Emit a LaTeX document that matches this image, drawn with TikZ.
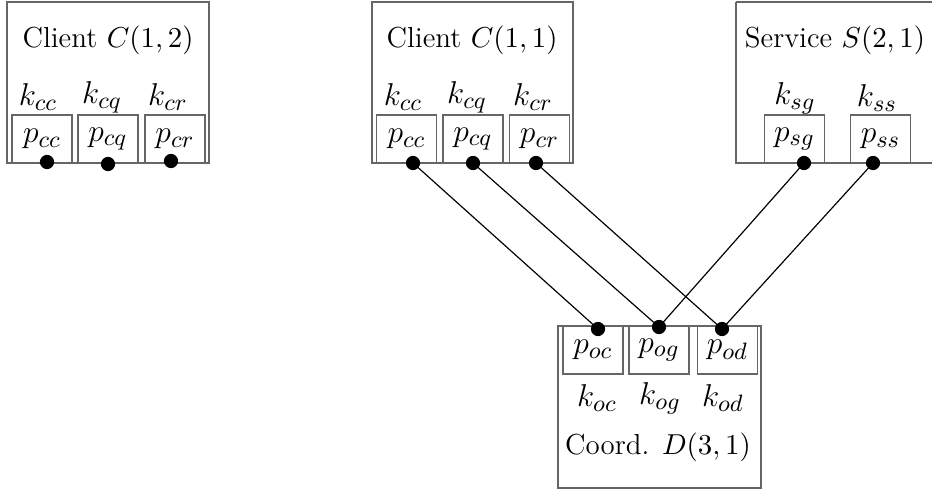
\documentclass[tikz,border=0pt]{standalone}
\begin{document}
\begin{tikzpicture}[x=0.38pt,y=-0.38pt,
  font=\fontsize{11}{13}\selectfont,
  outer/.style={draw=black!60,line width=0.5pt},
  port/.style={draw=black!60,line width=0.5pt,minimum width=22.8pt,minimum height=18.24pt,inner sep=0pt,font=\fontsize{12.5}{15}\selectfont},
  dot/.style={circle,fill=black,inner sep=0pt,minimum size=5.4pt},
  lbl/.style={inner sep=0pt},
  klbl/.style={inner sep=0pt,font=\fontsize{12.5}{15}\selectfont},
  conn/.style={draw=black,line width=0.45pt}]
\useasboundingbox (0,0) rectangle (932,494);
% Client C(1,2)
\draw[outer] (7,2) rectangle (209,163);
\node[lbl] (t12) at (108,40) {Client $C(1,2)$};
\node[port] (c12pcc) at (42,139) {$p_{cc}$};
\node[port] (c12pcq) at (108,139) {$p_{cq}$};
\node[port] (c12pcr) at (175,139) {$p_{cr}$};
\node[klbl] (c12kcc) at (38,97) {$k_{cc}$};
\node[klbl] (c12kcq) at (102,97) {$k_{cq}$};
\node[klbl] (c12kcr) at (168,97) {$k_{cr}$};
\node[dot] (c12dcc) at (47,162) {};
\node[dot] (c12dcq) at (108,164) {};
\node[dot] (c12dcr) at (171,161) {};
% Client C(1,1)
\draw[outer] (372,2) rectangle (573,163);
\node[lbl] (t11) at (472,40) {Client $C(1,1)$};
\node[port] (c11pcc) at (406.5,139) {$p_{cc}$};
\node[port] (c11pcq) at (473,139) {$p_{cq}$};
\node[port] (c11pcr) at (539.5,139) {$p_{cr}$};
\node[klbl] (c11kcc) at (403,97) {$k_{cc}$};
\node[klbl] (c11kcq) at (467,97) {$k_{cq}$};
\node[klbl] (c11kcr) at (533,97) {$k_{cr}$};
\node[dot] (c11dcc) at (413,163) {};
\node[dot] (c11dcq) at (473,163) {};
\node[dot] (c11dcr) at (536,163) {};
% Service S(2,1)
\draw[outer] (736,2) -- (945,2) (736,2) -- (736,163) -- (945,163);
\node[lbl] (t21) at (835,40) {Service $S(2,1)$};
\node[port] (s21psg) at (794.5,139) {$p_{sg}$};
\node[port] (s21pss) at (880.5,139) {$p_{ss}$};
\node[klbl] (s21ksg) at (795,98) {$k_{sg}$};
\node[klbl] (s21kss) at (877,98) {$k_{ss}$};
\node[dot] (s21dsg) at (804,163) {};
\node[dot] (s21dss) at (873,163) {};
% Coord D(3,1)
\draw[outer] (558,326) rectangle (761,488);
\node[lbl] (t31) at (658,447) {Coord. $D(3,1)$};
\node[port] (d31poc) at (593,350) {$p_{oc}$};
\node[port] (d31pog) at (659,350) {$p_{og}$};
\node[port] (d31pod) at (727.5,350) {$p_{od}$};
\node[klbl] (d31koc) at (597,398) {$k_{oc}$};
\node[klbl] (d31kog) at (660,398) {$k_{og}$};
\node[klbl] (d31kod) at (723,398) {$k_{od}$};
\node[dot] (d31doc) at (598,329) {};
\node[dot] (d31dog) at (659,327) {};
\node[dot] (d31dod) at (722,329) {};
% connectors
\draw[conn] (c11dcc.center) -- (d31doc.center);
\draw[conn] (c11dcq.center) -- (d31dog.center);
\draw[conn] (c11dcr.center) -- (d31dod.center);
\draw[conn] (s21dsg.center) -- (d31dog.center);
\draw[conn] (s21dss.center) -- (d31dod.center);
\end{tikzpicture}
\end{document}
